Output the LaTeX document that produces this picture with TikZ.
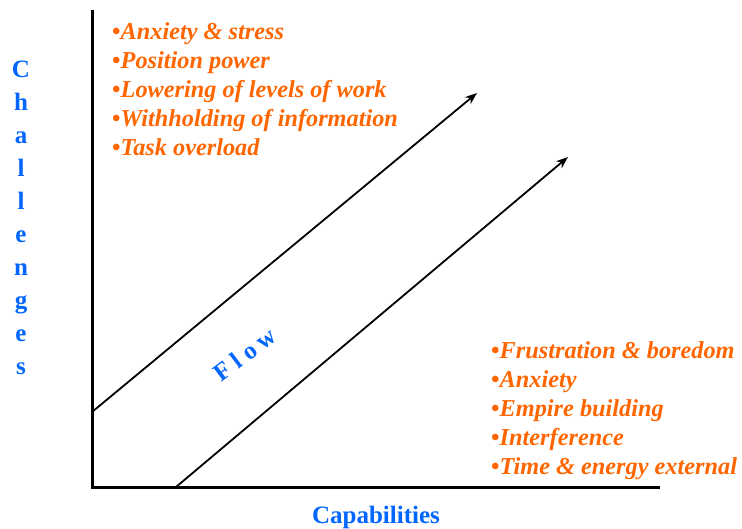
\documentclass[tikz,border=0pt]{standalone}
\usepackage{fontspec}
\setmainfont{Liberation Serif}
\usetikzlibrary{arrows.meta}
\definecolor{labelblue}{HTML}{0066FF}
\definecolor{listorange}{HTML}{FF6600}
\tikzset{
  axisline/.style={line width=3pt, black},
  flowline/.style={line width=1.8pt, black, -{Stealth[length=12pt,width=9pt]}},
  axislabel/.style={text=labelblue, font=\fontsize{25}{33}\selectfont\bfseries, inner sep=0pt},
  itemlist/.style={text=listorange, font=\fontsize{24.3}{29}\selectfont\bfseries\itshape, align=left, inner sep=0pt},
}
\newcommand{\itembullet}{{\upshape\textbullet}}
\begin{document}
\begin{tikzpicture}[x=1pt, y=-1pt]
  \useasboundingbox (0,0) rectangle (742,528);
  % axes
  \coordinate (ytop) at (92,10);
  \coordinate (origin) at (92,487);
  \coordinate (xend) at (660,487);
  \draw[axisline] (ytop) -- (origin) -- (xend);
  % flow channel boundaries
  \coordinate (upstart) at (92,412);
  \coordinate (upend) at (477,93);
  \coordinate (lowstart) at (176,487);
  \coordinate (lowend) at (568,157);
  \draw[flowline] (upstart) -- (upend);
  \draw[flowline] (lowstart) -- (lowend);
  % axis labels
  \node[axislabel, anchor=north, align=center] (challenges) at (21,61)
    {C\\h\\a\\l\\l\\e\\n\\g\\e\\s};
  \node[axislabel, rotate=37] (flow) at (245,354) {F\hspace{6pt}l\hspace{6pt}o\hspace{6pt}w};
  \node[axislabel, anchor=base] (capabilities) at (376,523) {Capabilities};
  % lists of challenges (anchored at the baseline of their last line)
  \node[itemlist, anchor=base west] (toplist) at (112,155)
    {\itembullet Anxiety \& stress\\
     \itembullet Position power\\
     \itembullet Lowering of levels of work\\
     \itembullet Withholding of information\\
     \itembullet Task overload};
  \node[itemlist, anchor=base west] (bottomlist) at (491,474)
    {\itembullet Frustration \& boredom\\
     \itembullet Anxiety\\
     \itembullet Empire building\\
     \itembullet Interference\\
     \itembullet Time \& energy external};
\end{tikzpicture}
\end{document}
